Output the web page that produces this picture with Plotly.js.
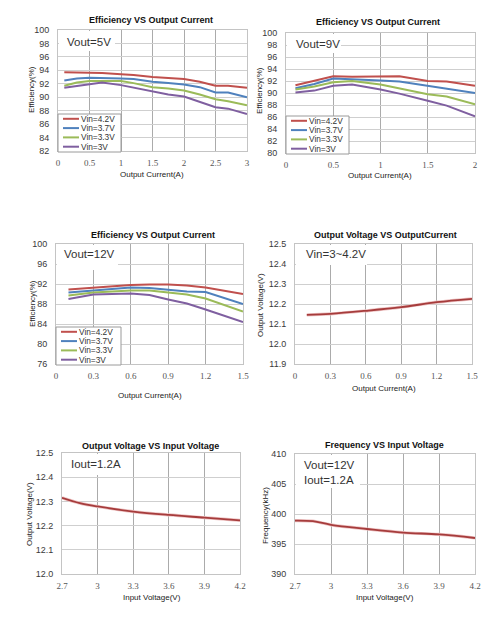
<!DOCTYPE html>
<html><head><meta charset="utf-8">
<script src="https://cdn.plot.ly/plotly-3.0.1.min.js"></script>
<style>html,body{margin:0;padding:0;background:#fff}#chart{width:503px;height:617px}</style>
</head><body><div id="chart"></div>
<script>
// ---------------- data ----------------
const seriesNames = ["Vin=4.2V", "Vin=3.7V", "Vin=3.3V", "Vin=3V"];

const vout5Current = [0.1, 0.3, 0.5, 0.7, 1.0, 1.2, 1.5, 1.75, 2.0, 2.25, 2.5, 2.7, 3.0];
const vout5Vin42 = [93.7, 93.7, 93.6, 93.6, 93.4, 93.3, 93.0, 92.9, 92.7, 92.3, 91.7, 91.7, 91.4];
const vout5Vin37 = [92.5, 92.8, 92.9, 92.9, 92.8, 92.7, 92.3, 92.1, 91.9, 91.5, 90.7, 90.7, 90.0];
const vout5Vin33 = [91.7, 92.2, 92.4, 92.4, 92.4, 92.1, 91.5, 91.3, 91.0, 90.4, 89.7, 89.4, 88.8];
const vout5Vin30 = [91.4, 91.7, 91.9, 92.2, 91.8, 91.4, 90.9, 90.4, 90.1, 89.3, 88.5, 88.3, 87.5];

const vout9Current = [0.1, 0.3, 0.5, 0.7, 1.0, 1.2, 1.5, 1.7, 2.0];
const vout9Vin42 = [91.3, 92.0, 92.8, 92.7, 92.7, 92.8, 92.0, 91.9, 91.2];
const vout9Vin37 = [90.8, 91.5, 92.4, 92.3, 92.1, 91.9, 91.2, 90.8, 90.0];
const vout9Vin33 = [90.6, 91.1, 91.8, 92.0, 91.4, 90.8, 89.8, 89.4, 88.1];
const vout9Vin30 = [90.1, 90.4, 91.2, 91.4, 90.6, 89.9, 88.7, 87.9, 86.1];

const vout12Current = [0.1, 0.3, 0.6, 0.75, 0.9, 1.05, 1.2, 1.5];
const vout12Vin42 = [90.9, 91.3, 91.8, 91.9, 91.9, 91.7, 91.3, 90.0];
const vout12Vin37 = [90.3, 90.7, 91.3, 91.2, 90.9, 90.5, 90.4, 88.0];
const vout12Vin33 = [89.7, 90.3, 90.7, 90.7, 90.3, 89.9, 89.1, 86.5];
const vout12Vin30 = [89.0, 89.9, 90.1, 89.8, 88.9, 88.1, 86.9, 84.4];

const loadCurrent = [0.1, 0.3, 0.6, 0.9, 1.2, 1.5];
const loadVout = [12.146, 12.151, 12.166, 12.184, 12.209, 12.226];

const inputVoltage = [2.7, 2.85, 3.0, 3.3, 3.6, 3.9, 4.2];
const lineVout = [12.315, 12.293, 12.279, 12.258, 12.244, 12.233, 12.222];
const lineFreq = [398.9, 398.8, 398.2, 397.5, 396.9, 396.6, 396.0];

const titles = ["Efficiency VS Output Current", "Efficiency VS Output Current", "Efficiency VS Output Current",
                "Output Voltage VS OutputCurrent", "Output Voltage VS Input Voltage", "Frequency VS Input Voltage"];
const xTitles = ["Output Current(A)", "Output Current(A)", "Output Current(A)", "Output Current(A)", "Input Voltage(V)", "Input Voltage(V)"];
const yTitles = ["Efficiency(%)", "Efficiency(%)", "Efficiency(%)", "Output Voltage(V)", "Output Voltage(V)", "Frequency(kHz)"];
const noteTexts = ["Vout=5V", "Vout=9V", "Vout=12V", "Vin=3~4.2V", "Iout=1.2A", "Vout=12V<br>Iout=1.2A"];

// ---------------- styling / layout ----------------
const W = 503, H = 617;
const colors = ["#c0504d", "#4f81bd", "#9bbb59", "#7f5fa0"];
const darkRed = "#a63c3c";
const px = v => v / W;
const py = v => 1 - v / H;

// plot boxes [left, right, top, bottom] in pixels
const boxes = [
  [58, 247, 30, 151],
  [286, 475, 33, 153],
  [56, 243, 244, 364],
  [295, 472, 244, 364],
  [62, 240, 453, 574],
  [295, 475, 454, 574]
];
const xRanges = [[0, 3], [0, 2], [0, 1.5], [0, 1.5], [2.7, 4.2], [2.7, 4.2]];
const xDticks = [0.5, 0.5, 0.3, 0.3, 0.3, 0.3];
const yRanges = [[82, 100], [80, 100], [76, 100], [11.9, 12.5], [12.0, 12.5], [390, 410]];
const yDticks = [2, 2, 4, 0.1, 0.1, 5];
const yFormats = ["", "", "", ".1f", ".1f", ""];

const traces = [];
function effTraces(x, ys, idx) {
  ys.forEach((y, k) => traces.push({
    type: "scatter", mode: "lines", x: x, y: y, name: seriesNames[k],
    xaxis: "x" + idx, yaxis: "y" + idx, showlegend: false,
    line: {color: colors[k], width: 2}
  }));
}
effTraces(vout5Current, [vout5Vin42, vout5Vin37, vout5Vin33, vout5Vin30], 1);
effTraces(vout9Current, [vout9Vin42, vout9Vin37, vout9Vin33, vout9Vin30], 2);
effTraces(vout12Current, [vout12Vin42, vout12Vin37, vout12Vin33, vout12Vin30], 3);
[[loadCurrent, loadVout, 4], [inputVoltage, lineVout, 5], [inputVoltage, lineFreq, 6]].forEach(([x, y, i]) => {
  traces.push({type: "scatter", mode: "lines", x: x, y: y, xaxis: "x" + i, yaxis: "y" + i,
    showlegend: false, line: {color: "#eec4c4", width: 3.2, shape: "spline"}, hoverinfo: "skip"});
  traces.push({type: "scatter", mode: "lines", x: x, y: y, xaxis: "x" + i, yaxis: "y" + i,
    showlegend: false, line: {color: darkRed, width: 1.8, shape: "spline"}});
});

const layout = {
  width: W, height: H, margin: {l: 0, r: 0, t: 0, b: 0},
  paper_bgcolor: "#fff", plot_bgcolor: "#fff", showlegend: false,
  font: {family: "Liberation Sans, Arial, sans-serif", color: "#333"},
  annotations: [], shapes: []
};

boxes.forEach((b, i) => {
  const n = i + 1;
  layout["xaxis" + n] = {
    domain: [px(b[0]), px(b[1])], range: xRanges[i], tick0: xRanges[i][0], dtick: xDticks[i],
    anchor: "y" + n, showgrid: true, gridcolor: "#ababab", gridwidth: 1, zeroline: false,
    showline: true, linecolor: "#c4c4c4", linewidth: 1, mirror: true, ticks: "",
    ticklabelstandoff: 3, fixedrange: true,
    tickfont: {family: "Liberation Serif, Times New Roman, serif", size: 9, color: "#555"}
  };
  layout["yaxis" + n] = {
    domain: [py(b[3]), py(b[2])], range: yRanges[i], tick0: yRanges[i][0], dtick: yDticks[i],
    anchor: "x" + n, showgrid: true, gridcolor: "#cfcfcf", gridwidth: 1, zeroline: false,
    showline: true, linecolor: "#c4c4c4", linewidth: 1, mirror: true, ticks: "",
    ticklabelstandoff: 6, fixedrange: true, tickformat: yFormats[i],
    tickfont: {family: "Liberation Sans, Arial, sans-serif", size: 9, color: "#3a3a3a"}
  };
});

function txt(text, x, y, opt) {
  return Object.assign({xref: "paper", yref: "paper", x: px(x), y: py(y), text: text,
    showarrow: false, xanchor: "center", yanchor: "middle",
    font: {family: "Liberation Sans, Arial, sans-serif", size: 8, color: "#222"}}, opt || {});
}
function rect(x0, y0, x1, y1, opt) {
  return Object.assign({type: "rect", xref: "paper", yref: "paper", x0: px(x0), x1: px(x1),
    y0: py(y0), y1: py(y1), fillcolor: "#fff", line: {width: 0}, layer: "above"}, opt || {});
}

// subplot titles
const titlePos = [[151, 20], [378, 22], [153, 235], [385, 235], [150, 446], [384, 445]];
titlePos.forEach((p, i) => layout.annotations.push(
  txt("<b>" + titles[i] + "</b>", p[0], p[1], {font: {family: "Liberation Sans, Arial, sans-serif", size: 9, color: "#111"}})));

// axis titles
const xtPos = [[152, 174.5], [380, 175], [150, 395], [384, 388], [152, 597], [385, 597]];
xtPos.forEach((p, i) => layout.annotations.push(txt(xTitles[i], p[0], p[1], {borderpad: 0})));
const ytPos = [[32, 89], [259, 91], [32, 303], [260, 305], [29, 514], [265, 516]];
ytPos.forEach((p, i) => layout.annotations.push(txt(yTitles[i], p[0], p[1], {textangle: -90})));

// note boxes (white background hiding grid) and texts
const noteRects = [[59, 31, 115, 51], [287, 34, 341, 53], [57, 245, 118, 270], [296, 245, 367, 265], [63, 454, 117, 475], [296, 455, 360, 488]];
noteRects.forEach(r => layout.shapes.push(rect(r[0], r[1], r[2], r[3])));
const notePos = [[65, 42], [294, 44], [62, 254], [304, 254], [69, 464], [302, 472]];
notePos.forEach((p, i) => layout.annotations.push(txt(noteTexts[i], p[0], p[1],
  {xanchor: "left", align: "left", font: {family: "Liberation Sans, Arial, sans-serif", size: 11.5, color: "#333"}})));

// custom legends for efficiency plots
const legendBoxes = [[58, 114, 121, 152], [286, 116, 349, 154], [56, 327, 121, 365]];
legendBoxes.forEach(lb => {
  layout.shapes.push(rect(lb[0], lb[1], lb[2], lb[3], {line: {color: "#9a9a9a", width: 1}}));
  const step = 9.3;
  seriesNames.forEach((nm, k) => {
    const yy = lb[1] + 4.8 + k * step;
    layout.shapes.push({type: "line", xref: "paper", yref: "paper", x0: px(lb[0] + 5), x1: px(lb[0] + 21),
      y0: py(yy), y1: py(yy), line: {color: colors[k], width: 2}, layer: "above"});
    layout.annotations.push(txt(nm, lb[0] + 21.5, yy, {xanchor: "left", borderpad: 0,
      font: {family: "Liberation Sans, Arial, sans-serif", size: 8.3, color: "#333"}}));
  });
});

Plotly.newPlot("chart", traces, layout, {staticPlot: true});
</script></body></html>
